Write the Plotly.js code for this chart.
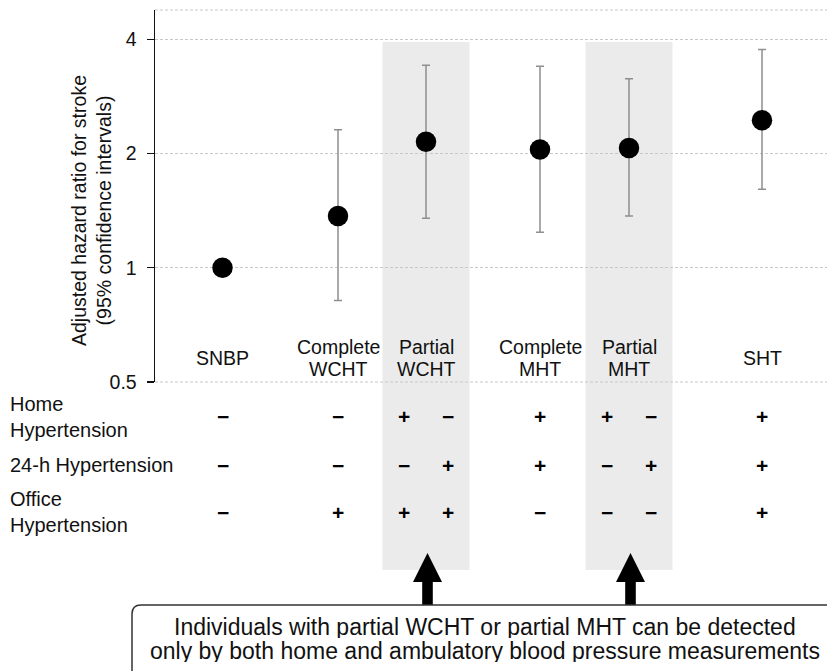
<!DOCTYPE html>
<html>
<head>
<meta charset="utf-8">
<script src="https://cdn.plot.ly/plotly-3.0.1.min.js"></script>
<style>html,body{margin:0;padding:0;background:#fff;}#chart{width:827px;height:671px;}</style>
</head>
<body>
<div id="chart"></div>
<script>
// ---- data ----
const categories = ['SNBP', 'Complete WCHT', 'Partial WCHT', 'Complete MHT', 'Partial MHT', 'SHT'];
const labelLines = [['SNBP'], ['Complete', 'WCHT'], ['Partial', 'WCHT'], ['Complete', 'MHT'], ['Partial', 'MHT'], ['SHT']];
const hazardRatio = [1.0, 1.37, 2.15, 2.05, 2.07, 2.45];
const ciLower = [1.0, 0.82, 1.35, 1.24, 1.37, 1.61];
const ciUpper = [1.0, 2.31, 3.42, 3.40, 3.15, 3.76];
const highlighted = [false, false, true, false, true, false];
const yTickVals = [0.5, 1, 2, 4];
const yTickText = ['0.5', '1', '2', '4'];
const rowLabels = ['Home<br>Hypertension', '24-h Hypertension', 'Office<br>Hypertension'];
const homeHT = [['−'], ['−'], ['+', '−'], ['+'], ['+', '−'], ['+']];
const ambulatoryHT = [['−'], ['−'], ['−', '+'], ['+'], ['−', '+'], ['+']];
const officeHT = [['−'], ['+'], ['+', '+'], ['−'], ['−', '−'], ['+']];
const noteLines = ['Individuals with partial WCHT or partial MHT can be detected',
                   'only by both home and ambulatory blood pressure measurements'];

// ---- layout constants ----
const L = 155, T = 10, PWd = 672, PHt = 372;
const catX = [0.675, 1.83, 2.71, 3.85, 4.74, 6.07];   // category centres on the x axis (1 unit = 100 px)
const subOff = 0.22;
const bandHalf = 0.435;
const px = v => (v - L) / PWd;
const py = v => (T + PHt - v) / PHt;
const FONT = 'Liberation Sans, Arial, sans-serif';
const FS = 19.5;

const trace = {
  type: 'scatter', mode: 'markers',
  x: catX, y: hazardRatio, text: categories,
  marker: {color: '#000', size: 20.5},
  error_y: {
    type: 'data', symmetric: false,
    array: ciUpper.map((u, i) => u - hazardRatio[i]),
    arrayminus: hazardRatio.map((h, i) => h - ciLower[i]),
    color: '#8f8f8f', thickness: 1.5, width: 4
  },
  hoverinfo: 'text+y', showlegend: false, cliponaxis: false
};

const shapes = [];
const annotations = [];

// highlighted bands + arrows
highlighted.forEach((h, i) => {
  if (!h) return;
  shapes.push({type: 'rect', xref: 'x', yref: 'paper', x0: catX[i] - bandHalf, x1: catX[i] + bandHalf,
    y0: py(570), y1: py(42), fillcolor: '#ebebeb', line: {width: 0}, layer: 'below'});
  const xc = (catX[i] * 100 + L) + 1.5;
  const sw = 5.3, hw = 14.5, tip = 553, base = 582, bot = 605;
  const p = [[xc - sw, bot], [xc - sw, base], [xc - hw, base], [xc, tip], [xc + hw, base], [xc + sw, base], [xc + sw, bot]];
  shapes.push({type: 'path', xref: 'paper', yref: 'paper', fillcolor: '#000', line: {width: 0},
    path: 'M' + p.map(q => px(q[0]) + ',' + py(q[1])).join(' L') + ' Z'});
});

// reference line at HR = 1
shapes.push({type: 'line', xref: 'paper', yref: 'y', x0: 0, x1: 1, y0: Math.log10(1), y1: Math.log10(1),
  line: {color: '#111', width: 1.4}, layer: 'below'});
// top and bottom dashed lines
[0, 1].forEach(v => shapes.push({type: 'line', xref: 'paper', yref: 'paper', x0: 0, x1: 1, y0: v, y1: v,
  line: {color: '#c8c8c8', width: 1, dash: '3px,2px'}, layer: 'below'}));

// note box (rounded)
{
  const x0 = 132, x1 = 845, y0 = 605, y1 = 690, r = 9;
  const path = `M${px(x0 + r)},${py(y0)} L${px(x1 - r)},${py(y0)} Q${px(x1)},${py(y0)} ${px(x1)},${py(y0 + r)} ` +
    `L${px(x1)},${py(y1 - r)} Q${px(x1)},${py(y1)} ${px(x1 - r)},${py(y1)} L${px(x0 + r)},${py(y1)} ` +
    `Q${px(x0)},${py(y1)} ${px(x0)},${py(y1 - r)} L${px(x0)},${py(y0 + r)} Q${px(x0)},${py(y0)} ${px(x0 + r)},${py(y0)} Z`;
  shapes.push({type: 'path', xref: 'paper', yref: 'paper', path: path, line: {color: '#333', width: 1.5}, fillcolor: 'rgba(0,0,0,0)'});
}

// category labels
labelLines.forEach((lines, i) => {
  const ys = lines.length === 1 ? [358] : [346.5, 369];
  lines.forEach((t, k) => annotations.push({xref: 'x', yref: 'paper', x: catX[i], y: py(ys[k]), text: t,
    showarrow: false, xanchor: 'center', yanchor: 'middle', borderpad: 0,
    font: {size: FS, color: '#111', family: FONT}}));
});

// table rows
const rowY = [417, 465, 512];
rowLabels.forEach((t, r) => annotations.push({xref: 'paper', yref: 'paper', x: px(8), y: py(rowY[r]), text: t,
  showarrow: false, xanchor: 'left', yanchor: 'middle', align: 'left', font: {size: 20, color: '#111', family: FONT}}));
[homeHT, ambulatoryHT, officeHT].forEach((row, r) => {
  row.forEach((syms, i) => {
    syms.forEach((s, k) => {
      const x = syms.length === 1 ? catX[i] : catX[i] + (k === 0 ? -subOff : subOff);
      annotations.push({xref: 'x', yref: 'paper', x: x, y: py(rowY[r]), text: '<b>' + s + '</b>', showarrow: false,
        xanchor: 'center', yanchor: 'middle', font: {size: 21, color: '#000', family: FONT}});
    });
  });
});

// y-axis title
annotations.push({xref: 'paper', yref: 'paper', x: px(91), y: py(211), textangle: -90,
  text: 'Adjusted hazard ratio for stroke<br>(95% confidence intervals)', showarrow: false,
  xanchor: 'center', yanchor: 'middle', font: {size: FS, color: '#111', family: FONT}});

// note text
[627, 650.5].forEach((yy, k) => annotations.push({xref: 'paper', yref: 'paper', x: px(485), y: py(yy), text: noteLines[k],
  showarrow: false, xanchor: 'center', yanchor: 'middle', height: 22, borderpad: 0,
  font: {size: 23, color: '#111', family: FONT}}));

const layout = {
  width: 827, height: 671,
  margin: {l: L, r: 827 - L - PWd, t: T, b: 671 - T - PHt, pad: 0},
  paper_bgcolor: '#fff', plot_bgcolor: 'rgba(0,0,0,0)',
  font: {family: FONT, size: FS, color: '#111'},
  xaxis: {range: [0, 6.72], showgrid: false, zeroline: false, showticklabels: false, ticks: '', showline: false, fixedrange: true},
  yaxis: {type: 'log', range: [Math.log10(0.5), Math.log10(4.78)], tickvals: yTickVals, ticktext: yTickText,
    showline: true, linecolor: '#111', linewidth: 1.4, ticks: 'outside', ticklen: 7, tickcolor: '#111', tickwidth: 1.3,
    ticklabelstandoff: 6,
    showgrid: true, gridcolor: '#c8c8c8', gridwidth: 1, griddash: '3px,2px', zeroline: false,
    tickfont: {size: FS, color: '#111', family: FONT}, fixedrange: true},
  shapes: shapes,
  annotations: annotations,
  showlegend: false
};

Plotly.newPlot('chart', [trace], layout, {displayModeBar: false, staticPlot: true});
</script>
</body>
</html>
